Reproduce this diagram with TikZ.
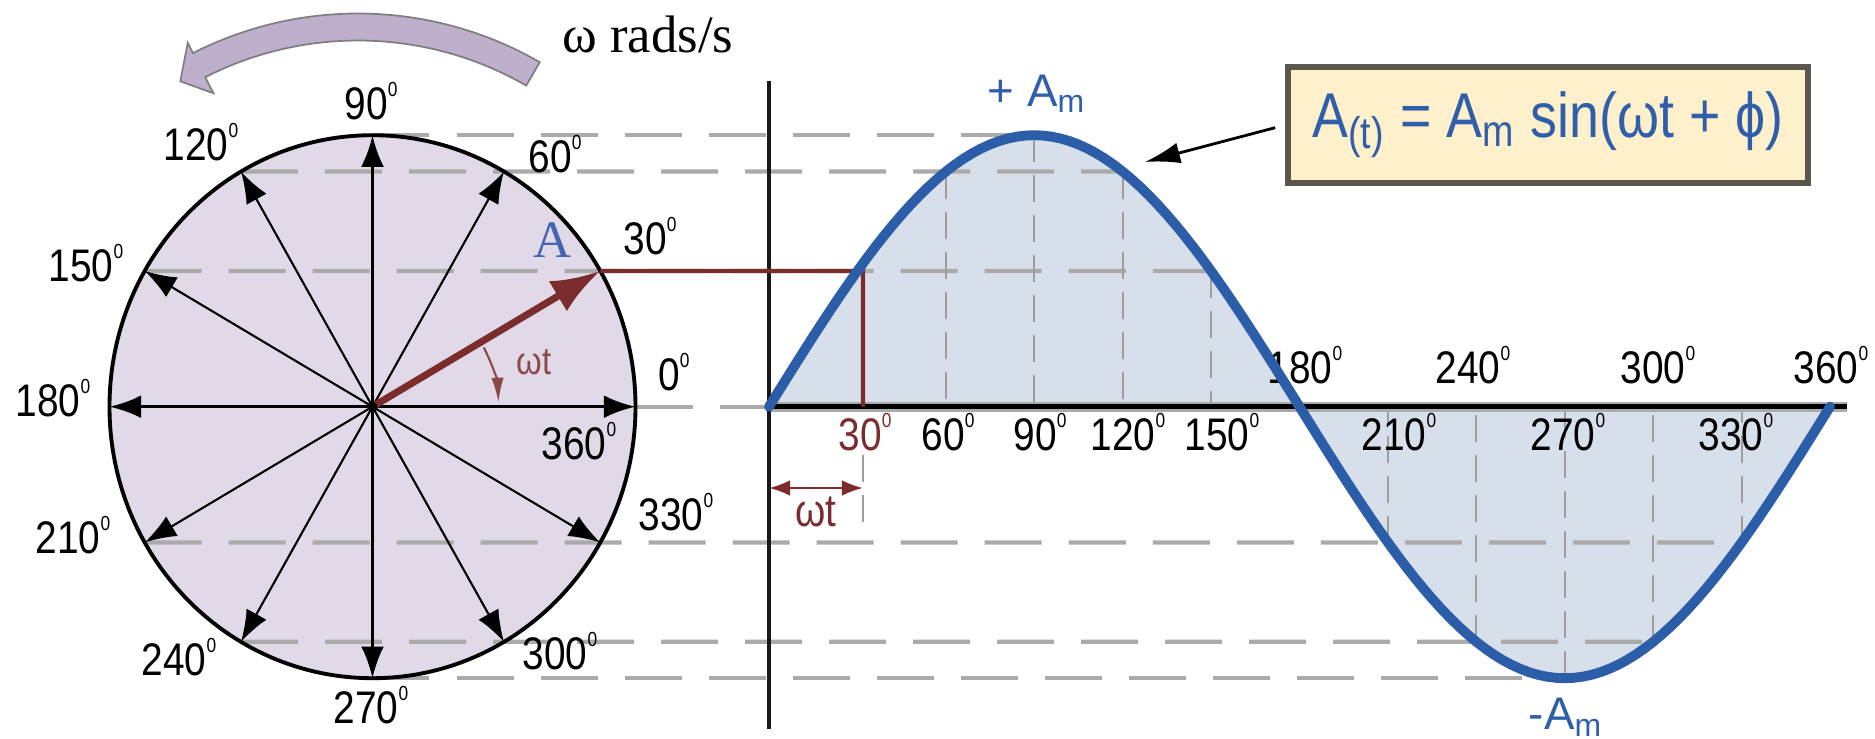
\documentclass[tikz,border=0pt]{standalone}
\usepackage{fontspec}
\setmainfont{Liberation Sans}
\newfontfamily\lblfont{Liberation Sans}[FakeStretch=0.85]
\newfontfamily\serfont{Liberation Serif}
\usepackage{tikz}
\usetikzlibrary{arrows.meta}

\definecolor{discfill}{HTML}{E1D9E8}
\definecolor{rotfill}{HTML}{BEB0CD}
\definecolor{rotdraw}{HTML}{7F7F7F}
\definecolor{wavefill}{HTML}{D6DFEA}
\definecolor{waveblue}{HTML}{2C5DA8}
\definecolor{phasorred}{HTML}{7B2D2D}
\definecolor{gridgray}{HTML}{AAAAAA}
\definecolor{vgray}{HTML}{9E9E9E}
\definecolor{boxfill}{HTML}{FEF0CA}
\definecolor{boxdraw}{HTML}{5C574C}
\definecolor{textblue}{HTML}{2F5EAA}
\definecolor{letterblue}{HTML}{4466B0}
\definecolor{arcbrown}{HTML}{8B4A4A}

\newcommand{\dgr}{\raisebox{.52em}{\fontsize{5.8pt}{6pt}\selectfont 0}}

\begin{document}
\begin{tikzpicture}[
    disc/.style={fill=discfill},
    rim/.style={draw=black, line width=1.1pt},
    rotarrow/.style={fill=rotfill, draw=rotdraw, line width=0.5pt},
    spoke/.style={-{Latex[length=9pt,width=6.5pt]}, line width=0.6pt},
    mainspoke/.style={spoke, line width=0.9pt},
    phasor/.style={-{Latex[length=14pt,width=10pt]}, draw=phasorred, line width=2pt},
    anglearc/.style={-{Latex[length=7pt,width=3.5pt]}, draw=arcbrown, line width=0.6pt},
    hgrid/.style={draw=gridgray, line width=1.2pt, dash pattern=on 0.57cm off 0.27cm},
    vgrid/.style={draw=vgray, line width=0.6pt, dash pattern=on 0.27cm off 0.13cm},
    proj/.style={draw=phasorred, line width=1.2pt},
    dimarrow/.style={{Latex[length=6pt,width=4.5pt]}-{Latex[length=6pt,width=4.5pt]}, draw=phasorred, line width=0.7pt},
    deg/.style={font={\lblfont\fontsize{13pt}{15pt}\selectfont}, inner sep=0pt},
    wave/.style={draw=waveblue, line width=2.8pt, line cap=round},
    formula/.style={
        rectangle,
        fill=boxfill,
        draw=boxdraw,
        line width=1.5pt,
        minimum width=5.2cm,
        minimum height=1.16cm,
        text=textblue,
        font={\lblfont\fontsize{18pt}{20pt}\selectfont}
    },
    callout/.style={-{Latex[length=10pt,width=6pt]}, line width=0.8pt, shorten <=3pt},
    amp/.style={text=textblue, font=\fontsize{13pt}{15pt}\selectfont, inner sep=0pt}
]

\useasboundingbox (-3.725,-3.313) rectangle (15.025,4.067);

% Rotation arrow above the disc
\filldraw[rotarrow, shift={(-0.145,0.297)}]
    (60:3.635) arc[start angle=60, end angle=117, radius=3.635]
    -- (117:3.75) -- (121:3.45) -- (117:3.185) -- (117:3.365)
    arc[start angle=117, end angle=60, radius=3.365] -- cycle;
\node[font={\serfont\fontsize{15pt}{17pt}\selectfont}] (rate) at (2.755,3.727) {ω rads/s};

% Points on the disc
\coordinate (o) at (0,0);
\coordinate (c0) at (0:2.63 and 2.715);
\coordinate (c30) at (30:2.63 and 2.715);
\coordinate (c60) at (60:2.63 and 2.715);
\coordinate (c90) at (90:2.63 and 2.715);
\coordinate (c120) at (120:2.63 and 2.715);
\coordinate (c150) at (150:2.63 and 2.715);
\coordinate (c180) at (180:2.63 and 2.715);
\coordinate (c210) at (210:2.63 and 2.715);
\coordinate (c240) at (240:2.63 and 2.715);
\coordinate (c270) at (270:2.63 and 2.715);
\coordinate (c300) at (300:2.63 and 2.715);
\coordinate (c330) at (330:2.63 and 2.715);

% Points on the wave
\coordinate (s60) at (5.733,2.351);
\coordinate (s90) at (6.618,2.715);
\coordinate (s120) at (7.502,2.351);
\coordinate (s150) at (8.386,1.358);
\coordinate (s210) at (10.154,-1.358);
\coordinate (s240) at (11.038,-2.351);
\coordinate (s270) at (11.923,-2.715);
\coordinate (s300) at (12.807,-2.351);
\coordinate (s330) at (13.691,-1.358);
\coordinate (b30) at (4.905,1.358);

% Axis ends
\coordinate (x0) at (3.965,0);
\coordinate (x1) at (14.745,0);
\coordinate (ytop) at (3.965,3.257);
\coordinate (ybot) at (3.965,-3.223);

% Disc and area under the wave
\fill[disc] (o) ellipse [x radius=2.63, y radius=2.715];
\fill[wavefill] plot[domain=0:360, samples=121] ({3.965+\x*10.61/360}, {2.715*sin(\x)}) -- cycle;

% Horizontal projections
\draw[hgrid] (c90) -- (s90);
\draw[hgrid] (c120) -- (s120);
\draw[hgrid] (c150) -- (s150);
\draw[hgrid] (c0) -- (x0);
\draw[hgrid] (c210) -- (s330);
\draw[hgrid] (c240) -- (s300);
\draw[hgrid] (c270) -- (s270);

% Angle marks on the wave
\draw[vgrid] (s60) -- (s60 |- o);
\draw[vgrid] (s90) -- (s90 |- o);
\draw[vgrid] (s120) -- (s120 |- o);
\draw[vgrid] (s150) -- (s150 |- o);
\draw[vgrid] (s210) -- (s210 |- o);
\draw[vgrid] (s240) -- (s240 |- o);
\draw[vgrid] (s270) -- (s270 |- o);
\draw[vgrid] (s300) -- (s300 |- o);
\draw[vgrid] (s330) -- (s330 |- o);
\draw[vgrid] (4.905,-0.48) -- (4.905,-1.23);

% Disc rim and spokes
\draw[rim] (o) ellipse [x radius=2.63, y radius=2.715];
\draw[mainspoke] (o) -- (c0);
\draw[mainspoke] (o) -- (c90);
\draw[mainspoke] (o) -- (c180);
\draw[mainspoke] (o) -- (c270);
\draw[spoke] (o) -- (c60);
\draw[spoke] (o) -- (c120);
\draw[spoke] (o) -- (c150);
\draw[spoke] (o) -- (c210);
\draw[spoke] (o) -- (c240);
\draw[spoke] (o) -- (c300);
\draw[spoke] (o) -- (c330);

% Phasor A
\draw[phasor] (o) -- (c30);
\fill (o) circle (0.05);
\draw[anglearc] (28:1.26) arc[start angle=28, end angle=2, radius=1.26];

% Axes of the wave
\draw[draw=gridgray, line width=2.8pt] (x0) -- (x1);
\draw[line width=1.4pt] (x0) -- (x1);
\draw[draw=black!90, line width=1.1pt] (ytop) -- (ybot);

% Projection of the phasor tip
\draw[proj] (c30) -- (b30) -- (b30 |- o);
\coordinate (d0) at (3.965,-0.813);
\coordinate (d1) at (4.905,-0.813);
\draw[dimarrow] (d0) -- (d1);
\node[deg, text=phasorred] (wt2) at (4.435,-1.053) {ωt};

% Disc labels
\node[deg] (l90) at (-0.015,3.057) {90\dgr};
\node[deg] (l120) at (-1.715,2.647) {120\dgr};
\node[deg] (l60) at (1.825,2.527) {60\dgr};
\node[deg] (l150) at (-2.865,1.437) {150\dgr};
\node[deg] (l30) at (2.775,1.707) {30\dgr};
\node[font={\serfont\fontsize{15pt}{17pt}\selectfont}, text=letterblue, inner sep=0pt] (la) at (1.805,1.667) {A};
\node[deg] (l0) at (3.015,0.347) {0\dgr};
\node[deg] (l180) at (-3.195,0.087) {180\dgr};
\node[deg] (l360) at (2.065,-0.343) {360\dgr};
\node[deg] (l330) at (3.035,-1.053) {330\dgr};
\node[deg] (l210) at (-2.995,-1.283) {210\dgr};
\node[deg] (l240) at (-1.935,-2.503) {240\dgr};
\node[deg] (l300) at (1.875,-2.443) {300\dgr};
\node[deg] (l270) at (-0.015,-2.983) {270\dgr};
\node[deg, text=arcbrown, font={\lblfont\fontsize{11pt}{13pt}\selectfont}] (lwt) at (1.615,0.447) {ωt};

% Wave labels
\node[deg, text=phasorred] (w30) at (4.925,-0.253) {30\dgr};
\node[deg] (w60) at (5.755,-0.253) {60\dgr};
\node[deg] (w90) at (6.675,-0.253) {90\dgr};
\node[deg] (w120) at (7.555,-0.253) {120\dgr};
\node[deg] (w150) at (8.495,-0.253) {150\dgr};
\node[deg] (w210) at (10.265,-0.253) {210\dgr};
\node[deg] (w270) at (11.955,-0.253) {270\dgr};
\node[deg] (w330) at (13.635,-0.253) {330\dgr};
\node[deg] (w180) at (9.325,0.417) {180\dgr};
\node[deg] (w240) at (11.005,0.417) {240\dgr};
\node[deg] (w300) at (12.855,0.417) {300\dgr};
\node[deg] (w360) at (14.585,0.417) {360\dgr};

% The wave
\draw[wave] plot[domain=0:360, samples=121] ({3.965+\x*10.61/360}, {2.715*sin(\x)});

% Formula and peak labels
\node[formula] (box) at (11.755,2.817) {A\textsubscript{(t)} = A\textsubscript{m} sin(ωt + ϕ)};
\coordinate (hit) at (7.725,2.447);
\draw[callout] (box.west) -- (hit);
\node[amp] (ampp) at (6.645,3.127) {+ A\textsubscript{m}};
\node[amp, anchor=south] (ampn) at (11.935,-3.30) {-A\textsubscript{m}};

\end{tikzpicture}
\end{document}
